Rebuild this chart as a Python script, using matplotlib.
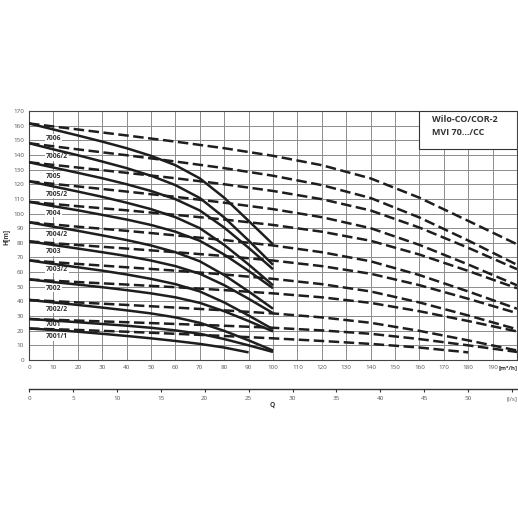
import matplotlib.pyplot as plt
from matplotlib.patches import Rectangle

plt.rcParams['font.family'] = ['Open Sans', 'DejaVu Sans']

# flow grid for one pump (solid) and two pumps (dashed), m3/h
q_one = [0, 10, 20, 30, 40, 50, 60, 70, 80, 90, 100]
q_two = [0, 20, 40, 60, 80, 100, 120, 140, 160, 180, 200]

names = ['7006', '7006/2', '7005', '7005/2', '7004', '7004/2',
         '7003', '7003/2', '7002', '7002/2', '7001', '7001/1']

h_7006 = [161.5, 157.4, 153.3, 149.1, 144.6, 139.4, 133.0, 124.0, 110.8, 95.0, 79.0]
h_7006_2 = [148.0, 143.8, 139.8, 135.5, 131.0, 125.8, 119.4, 110.6, 97.3, 81.6, 65.0]
h_7005 = [135.0, 131.4, 127.8, 124.1, 120.0, 115.4, 109.8, 102.1, 90.4, 76.6, 62.0]
h_7005_2 = [122.0, 118.5, 115.0, 111.4, 107.4, 103.0, 97.5, 90.0, 78.6, 65.2, 51.0]
h_7004 = [108.0, 105.0, 102.2, 99.1, 95.9, 92.2, 87.6, 81.4, 72.0, 60.8, 49.0]
h_7004_2 = [94.0, 91.0, 88.2, 85.1, 81.9, 78.2, 73.6, 67.4, 58.0, 46.8, 35.0]
h_7003 = [81.0, 78.5, 76.1, 73.6, 71.0, 67.9, 64.1, 58.9, 51.1, 41.8, 32.0]
h_7003_2 = [68.0, 65.6, 63.3, 61.0, 58.4, 55.4, 51.8, 46.8, 39.3, 30.4, 21.0]
h_7002 = [55.0, 53.2, 51.5, 49.7, 47.7, 45.5, 42.8, 39.0, 33.3, 26.6, 19.5]
h_7002_2 = [41.0, 39.3, 37.6, 35.8, 33.9, 31.8, 29.1, 25.4, 19.9, 13.4, 6.5]
h_7001 = [28.0, 26.9, 25.8, 24.6, 23.4, 22.0, 20.2, 17.9, 14.3, 10.0, 5.5]
h_7001_1 = [21.5, 20.5, 19.3, 17.9, 16.4, 14.8, 13.0, 11.0, 8.5, 5.2]

curves = [h_7006, h_7006_2, h_7005, h_7005_2, h_7004, h_7004_2,
          h_7003, h_7003_2, h_7002, h_7002_2, h_7001, h_7001_1]

# label anchor heights at Q ~ 7 m3/h
label_h = [151.5, 138.6, 125.6, 113.3, 100.3, 86.0, 73.9, 62.1, 49.1, 34.8, 23.9, 15.9]

ls_ticks = [0, 5, 10, 15, 20, 25, 30, 35, 40, 45, 50, 55]

ink = '#1e1e1e'
fig = plt.figure(figsize=(5.18, 5.18), dpi=100)
ax = fig.add_axes([29 / 518, 158 / 518, 488 / 518, 249 / 518])

for h in curves:
    n = len(h)
    ax.plot(q_one[:n], h, color=ink, lw=1.8, solid_capstyle='butt',
            solid_joinstyle='round', zorder=3)
    ax.plot(q_two[:n], h, color=ink, lw=1.8, dashes=(4.2, 1.8), zorder=3)

for name, y in zip(names, label_h):
    ax.text(6.8, y, name, fontsize=4.9, fontweight='bold', color='#333',
            va='center', ha='left', zorder=2,
            bbox=dict(facecolor='white', edgecolor='none', pad=0.6))

ax.set_xlim(0, 200)
ax.set_ylim(0, 170)
ax.set_xticks(range(0, 201, 10))
ax.set_xticklabels([str(v) for v in range(0, 200, 10)] + [''])
ax.set_yticks(range(0, 171, 10))
ax.tick_params(length=0, labelsize=4.5, labelcolor='#555', pad=3.5)
ax.grid(color='#8c8c8c', lw=0.7, zorder=0)
ax.set_axisbelow(True)
for s in ax.spines.values():
    s.set_color('#444')
    s.set_linewidth(0.8)

ax.annotate('[m³/h]', xy=(1, 0), xycoords='axes fraction', xytext=(0.5, -5.7),
            textcoords='offset points', ha='right', va='center',
            fontsize=4.4, fontweight='bold', color='#333')

# title box
ax.add_patch(Rectangle((160, 144), 40, 26, facecolor='white', edgecolor='#333',
                       lw=0.8, zorder=4))
ax.text(165, 164.5, 'Wilo-CO/COR-2', fontsize=6.5, fontweight='bold',
        color='#333', va='center', zorder=5)
ax.text(165, 155.2, 'MVI 70.../CC', fontsize=6.5, fontweight='bold',
        color='#333', va='center', zorder=5)

# second flow scale in l/s
sec = ax.secondary_xaxis(-0.116, functions=(lambda q: q / 3.6, lambda l: l * 3.6))
sec.set_xticks(ls_ticks)
sec.set_xticklabels([str(v) for v in ls_ticks[:-1]] + ['[l/s]'])
sec.tick_params(direction='out', length=2.5, width=0.8, color='#333',
                labelsize=4.5, labelcolor='#555', pad=2.5)
sec.spines['bottom'].set_color('#333')
sec.spines['bottom'].set_linewidth(1.0)

fig.text(272 / 518, 1 - 405 / 518, 'Q', fontsize=4.8, fontweight='bold',
         color='#333', ha='center', va='center')
fig.text(6 / 518, 1 - 237 / 518, 'H[m]', fontsize=4.8, fontweight='bold',
         color='#333', ha='center', va='center', rotation=90)

fig.savefig('out.png', dpi=100)
